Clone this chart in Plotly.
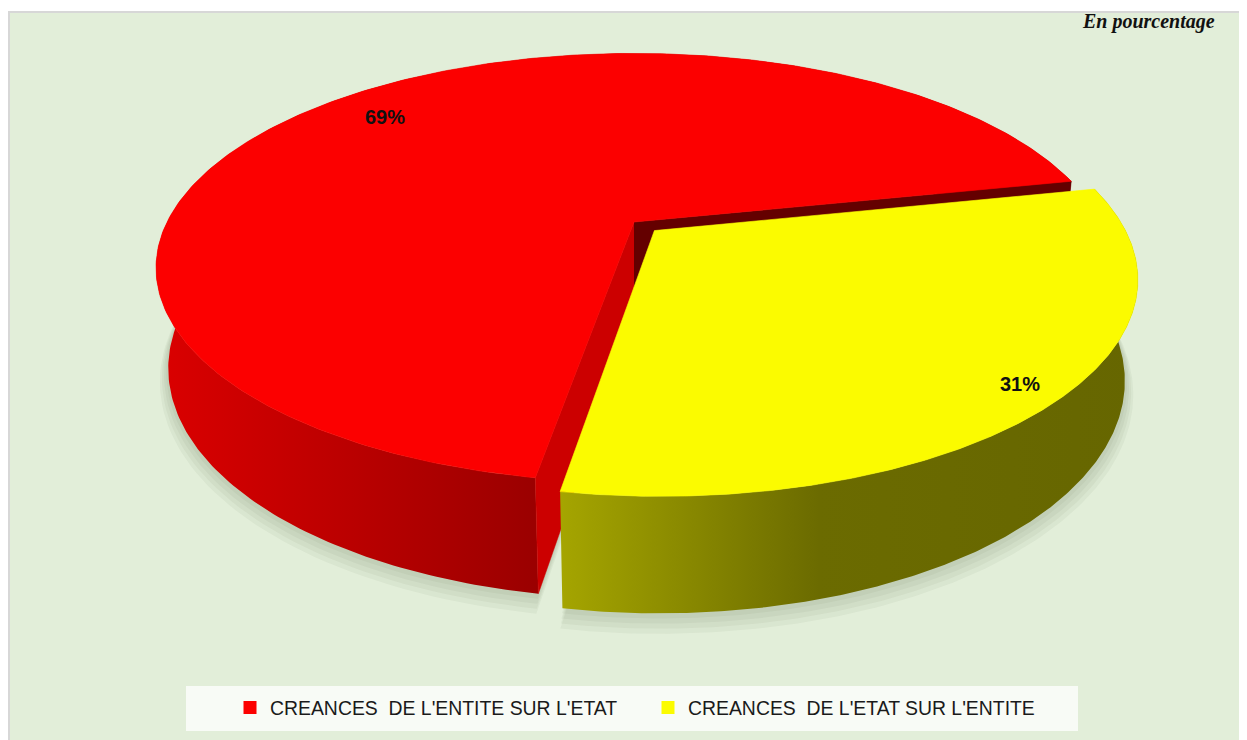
import numpy as np
import plotly.graph_objects as go

# ---------------- data ----------------
categories = ["CREANCES  DE L'ENTITE SUR L'ETAT", "CREANCES  DE L'ETAT SUR L'ENTITE"]
values = [69, 31]
pct_labels = ["69%", "31%"]
note_text = "En pourcentage"

# ---------------- styles ----------------
top_colors = ["#fc0000", "#fbfb00"]
side_scales = [
    [[0, "#dc0000"], [1, "#9a0000"]],
    [[0, "#a6a600"], [0.45, "#6b6b00"], [1, "#666600"]],
]
side_ranges = [(150, 540), (556, 1140)]
cut_colors = [("#cc0000", "#640000"), ("#cccc00", "#666600")]
explode = [0.0, 0.06]
label_r = [0.83, 0.92]

# 3D view parameters (Excel-like perspective pie), page-pixel frame
TH = np.radians(26.0)
CO, SN = np.cos(TH), np.sin(TH)
D = 4.2
SCALE = 1961
CX, CY = 634, 222
H = 0.24
START = 189.6       # angle of first slice, clockwise from back
W, HGT = 1247, 740
OFF = 8             # page offset of the figure (body margin)


def proj(X, Y, Z):
    X = np.asarray(X, float)
    Y = np.asarray(Y, float)
    Z = np.asarray(Z, float)
    depth = D - (Y * SN + Z * CO)
    return CX + SCALE * X / depth, CY - SCALE * (Y * CO - Z * SN) / depth


cam = np.array([0.0, D * SN, D * CO])

fig = go.Figure()

total = float(sum(values))
angles = []
cum = 0.0
for v in values:
    a0 = START + 360.0 * cum / total
    a1 = a0 + 360.0 * v / total
    angles.append((a0, a1))
    cum += v

offsets = []
for (a0, a1), e in zip(angles, explode):
    m = np.radians((a0 + a1) / 2)
    offsets.append((e * np.sin(m), -e * np.cos(m)))


def poly(xs, ys, **kw):
    fig.add_trace(go.Scatter(x=list(xs), y=list(ys), mode="lines", fill="toself",
                             hoverinfo="skip", showlegend=False, **kw))


# soft shadow
for k in range(1, 5):
    for (a0, a1), (ox, oz) in zip(angles, offsets):
        b = np.radians(np.linspace(a0, a1, 160))
        r = 1.0 + 0.005 * k
        X = np.concatenate([[ox], ox + r * np.sin(b), [ox]])
        Z = np.concatenate([[oz], oz - r * np.cos(b), [oz]])
        px, py = proj(X, np.full_like(X, -H - 0.007 * k), Z)
        poly(px, py, fillcolor="rgba(80,100,70,0.06)", line=dict(width=0))

# slices
for i, ((a0, a1), (ox, oz)) in enumerate(zip(angles, offsets)):
    b = np.radians(np.linspace(a0, a1, 300))
    Xr = ox + np.sin(b)
    Zr = oz - np.cos(b)
    # outer side band
    tx, ty = proj(Xr, np.zeros_like(Xr), Zr)
    bx, by = proj(Xr, np.full_like(Xr, -H), Zr)
    poly(np.concatenate([tx, bx[::-1]]), np.concatenate([ty, by[::-1]]),
         line=dict(width=0),
         fillgradient=dict(type="horizontal", colorscale=side_scales[i],
                           start=side_ranges[i][0], stop=side_ranges[i][1]))
    # cut faces
    for a, ndir, col in ((a0, a0 - 90, cut_colors[i][0]), (a1, a1 + 90, cut_colors[i][1])):
        ar, nr = np.radians(a), np.radians(ndir)
        n = np.array([np.sin(nr), 0.0, -np.cos(nr)])
        mpt = np.array([ox + 0.5 * np.sin(ar), -H / 2, oz - 0.5 * np.cos(ar)])
        if np.dot(n, cam - mpt) > 0:
            X = [ox, ox + np.sin(ar), ox + np.sin(ar), ox]
            Y = [0, 0, -H, -H]
            Z = [oz, oz - np.cos(ar), oz - np.cos(ar), oz]
            px, py = proj(X, Y, Z)
            poly(px, py, fillcolor=col, line=dict(width=0.5, color=col))
    # top face
    X = np.concatenate([[ox], Xr, [ox]])
    Z = np.concatenate([[oz], Zr, [oz]])
    px, py = proj(X, np.zeros_like(X), Z)
    poly(px, py, fillcolor=top_colors[i], line=dict(width=0.6, color=top_colors[i]))

# percentage labels
for i, ((a0, a1), (ox, oz)) in enumerate(zip(angles, offsets)):
    m = np.radians((a0 + a1) / 2)
    lx, ly = proj(ox + label_r[i] * np.sin(m), 0.0, oz - label_r[i] * np.cos(m))
    fig.add_annotation(x=float(lx), y=float(ly), text="<b>%s</b>" % pct_labels[i],
                       showarrow=False, xref="x", yref="y",
                       font=dict(family="Liberation Sans", size=20, color="#111111"))

# legend entries
for i, cat in enumerate(categories):
    fig.add_trace(go.Scatter(x=[None], y=[None], mode="markers",
                             marker=dict(symbol="square", size=13, color=top_colors[i]),
                             name=cat.replace("  ", " \u00a0"), hoverinfo="skip"))

# note at top right (partly cut off in the original, kept fully visible here)
fig.add_annotation(x=1217, y=OFF, xref="x", yref="y", xanchor="right", yanchor="top",
                   text="<b><i>%s</i></b>" % note_text, showarrow=False,
                   font=dict(family="Liberation Serif", size=20, color="#111111"))

fig.update_layout(
    width=W, height=HGT, autosize=False,
    margin=dict(l=0, r=0, t=0, b=0),
    paper_bgcolor="white", plot_bgcolor="white",
    xaxis=dict(range=[OFF, OFF + W], visible=False, fixedrange=True),
    yaxis=dict(range=[OFF + HGT, OFF], visible=False, fixedrange=True),
    shapes=[
        dict(type="rect", xref="x", yref="y", x0=9, x1=1241, y0=12, y1=800,
             fillcolor="#e2eed9", line=dict(color="#d7d7d7", width=2), layer="below"),
        dict(type="rect", xref="x", yref="y", x0=186, x1=1078, y0=686, y1=731,
             fillcolor="#f8fbf6", line=dict(width=0), layer="below"),
    ],
    showlegend=True,
    legend=dict(orientation="h", x=(230 - OFF) / W, xanchor="left",
                y=1 - (708 - OFF) / HGT, yanchor="middle",
                bgcolor="rgba(0,0,0,0)", entrywidth=373, entrywidthmode="pixels",
                font=dict(family="Liberation Sans", size=19.4, color="#1a1a1a"),
                itemclick=False, itemdoubleclick=False),
)

fig.write_html("out.html")
